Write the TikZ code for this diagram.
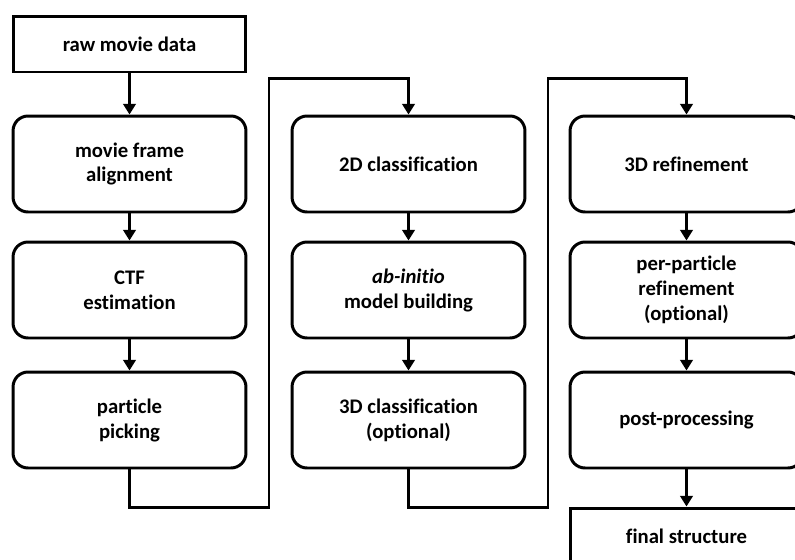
\documentclass[tikz,border=0pt]{standalone}
\usepackage{fontspec}
\setmainfont{Carlito}[Ligatures=NoCommon]
\usetikzlibrary{calc,arrows.meta}

\begin{document}
\begin{tikzpicture}[x=0.02cm,y=-0.02cm,
    every node/.style={font=\fontsize{11.8}{14.2}\selectfont\bfseries,align=center},
    stage/.style={draw,line width=1.7pt,rounded corners=0.3cm,
                  minimum width=4.66cm,minimum height=1.92cm,inner sep=0pt},
    endbox/.style={draw,line width=1.7pt,minimum width=4.66cm,
                   minimum height=1.12cm,inner sep=0pt},
    flow/.style={line width=1.7pt,-{Triangle[width=7pt,length=6pt]}}]
    \useasboundingbox (0,0) rectangle (795,559);
    \clip (0,0) rectangle (795,559);

    % first column
    \node[endbox] (Raw)   at (129.5,44)  {raw movie data};
    \node[stage]  (Align) at (129.5,164) {movie frame\\alignment};
    \node[stage]  (Ctf)   at (129.5,290) {CTF\\estimation};
    \node[stage]  (Pick)  at (129.5,420) {particle\\picking};

    % second column
    \node[stage] (ClsTwo)   at (408.5,164) {2D classification};
    \node[stage] (Initio)   at (408.5,290) {\textit{ab-initio}\\model building};
    \node[stage] (ClsThree) at (408.5,420) {3D classification\\(optional)};

    % third column
    \node[stage]  (Refine) at (686.5,164) {3D refinement};
    \node[stage]  (PerPar) at (686.5,290) {per-particle\\refinement\\(optional)};
    \node[stage]  (Post)   at (686.5,420) {post-processing};
    \node[endbox] (Final)  at (686.5,536) {final structure};

    \coordinate (DownA) at (269,507);
    \coordinate (UpA)   at (269,78);
    \coordinate (DownB) at (548,507);
    \coordinate (UpB)   at (548,78);

    \draw[flow] (Raw) -- (Align);
    \draw[flow] (Align) -- (Ctf);
    \draw[flow] (Ctf) -- (Pick);
    \draw[flow] (Pick.south) |- (DownA) -- (UpA) -| (ClsTwo.north);

    \draw[flow] (ClsTwo) -- (Initio);
    \draw[flow] (Initio) -- (ClsThree);
    \draw[flow] (ClsThree.south) |- (DownB) -- (UpB) -| (Refine.north);

    \draw[flow] (Refine) -- (PerPar);
    \draw[flow] (PerPar) -- (Post);
    \draw[flow] (Post) -- (Final);
\end{tikzpicture}
\end{document}
